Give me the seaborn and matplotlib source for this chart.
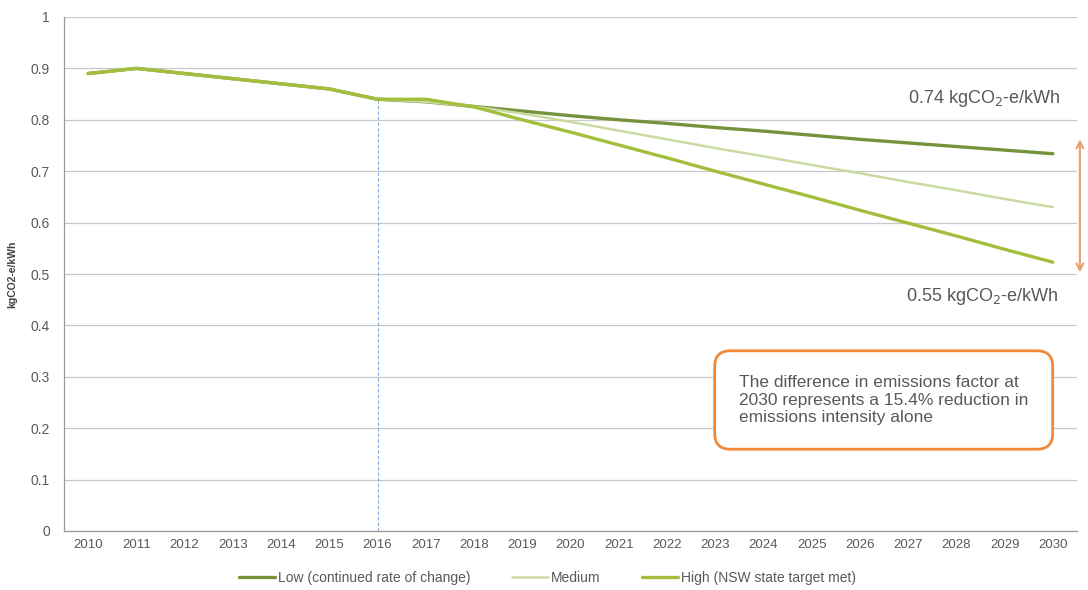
import matplotlib
matplotlib.use("Agg")
import matplotlib.pyplot as plt
import seaborn as sns
import pandas as pd

# ── data ─────────────────────────────────────────────────────────────
years = list(range(2010, 2031))
low = [0.89, 0.90, 0.89, 0.88, 0.87, 0.86, 0.84,
       0.835, 0.826, 0.817, 0.808, 0.800, 0.793, 0.785,
       0.778, 0.770, 0.762, 0.755, 0.748, 0.741, 0.734]
medium = [0.89, 0.90, 0.89, 0.88, 0.87, 0.86, 0.84,
          0.835, 0.826, 0.812, 0.796, 0.779, 0.762, 0.745,
          0.729, 0.712, 0.696, 0.679, 0.663, 0.646, 0.630]
high = [0.89, 0.90, 0.89, 0.88, 0.87, 0.86, 0.84,
        0.840, 0.825, 0.800, 0.776, 0.751, 0.726, 0.700,
        0.675, 0.650, 0.624, 0.599, 0.574, 0.548, 0.523]
series_names = ["Low (continued rate of change)", "Medium", "High (NSW state target met)"]
y_ticks = [0, 0.1, 0.2, 0.3, 0.4, 0.5, 0.6, 0.7, 0.8, 0.9, 1]
y_tick_labels = ["0", "0.1", "0.2", "0.3", "0.4", "0.5", "0.6", "0.7", "0.8", "0.9", "1"]
split_year = 2016
label_top = "0.74 kgCO$_2$-e/kWh"
label_bottom = "0.55 kgCO$_2$-e/kWh"
note = ("The difference in emissions factor at\n"
        "2030 represents a 15.4% reduction in\n"
        "emissions intensity alone")

PALETTE = {series_names[0]: "#76923C",
           series_names[1]: "#C9DBA3",
           series_names[2]: "#A2BE3C"}
WIDTHS = {series_names[0]: 2.4, series_names[1]: 1.8, series_names[2]: 2.4}
TEXT = "#595959"
GRID = "#C8C8C8"

df = pd.DataFrame({
    "year": years * 3,
    "value": low + medium + high,
    "scenario": [series_names[0]] * len(years)
                + [series_names[1]] * len(years)
                + [series_names[2]] * len(years),
})

sns.set_theme(style="white")
plt.rcParams["font.family"] = ["Liberation Sans", "DejaVu Sans"]

fig = plt.figure(figsize=(10.88, 5.90), dpi=100)
ax = fig.add_axes([64 / 1088, 1 - 531 / 590, (1077 - 64) / 1088, (531 - 17) / 590])

for name in series_names:
    sns.lineplot(data=df[df["scenario"] == name], x="year", y="value",
                 color=PALETTE[name], linewidth=WIDTHS[name], ax=ax,
                 label=name, legend=False)

# dashed marker at the split year
split_val = low[years.index(split_year)]
ax.vlines(split_year, 0, split_val, colors="#7FAEDB", linestyles=(0, (3, 2)),
          linewidth=0.8, zorder=1)

ax.set_xlim(years[0] - 0.5, years[-1] + 0.5)
ax.set_ylim(0, 1)
ax.set_xticks(years)
ax.set_xticklabels([str(y) for y in years])
ax.set_xticks([y + 0.5 for y in [years[0] - 1] + years], minor=True)
ax.set_yticks(y_ticks)
ax.set_yticklabels(y_tick_labels)
ax.tick_params(axis="x", which="major", length=0, labelsize=9.5, colors=TEXT, pad=6)
ax.tick_params(axis="x", which="minor", length=4, color="#999999", direction="out")
ax.tick_params(axis="y", length=4, color="#999999", labelsize=10, labelcolor=TEXT, pad=6)
ax.yaxis.grid(True, color=GRID, linewidth=0.9)
ax.set_axisbelow(True)
ax.set_xlabel("")
ax.set_ylabel("kgCO2-e/kWh", fontsize=7.5, fontweight="bold", color="#404040", labelpad=10)
for side in ["top", "right"]:
    ax.spines[side].set_visible(False)
for side in ["left", "bottom"]:
    ax.spines[side].set_color("#999999")
    ax.spines[side].set_linewidth(0.9)

# annotations
ax.text(years[-1] + 0.17, 0.842, label_top, ha="right", va="center",
        fontsize=13, color=TEXT)
ax.text(years[-1] + 0.12, 0.457, label_bottom, ha="right", va="center",
        fontsize=13, color=TEXT)
ax.annotate("", xy=(years[-1] + 0.56, 0.503), xytext=(years[-1] + 0.56, 0.762),
            arrowprops=dict(arrowstyle="<->", color="#E8A06E", lw=1.5,
                            shrinkA=0, shrinkB=0, mutation_scale=12),
            annotation_clip=False)
fig.text(739 / 1088, 1 - 400 / 590, note, ha="left", va="center",
         fontsize=12.5, color=TEXT, linespacing=1.2,
         bbox=dict(boxstyle="round,pad=1.4,rounding_size=0.9", facecolor="white",
                   edgecolor="#F08A3A", linewidth=2.0))

handles, labels = ax.get_legend_handles_labels()
fig.legend(handles, labels, loc="center", bbox_to_anchor=(0.503, 1 - 578 / 590),
           ncol=3, frameon=False, fontsize=10, handlelength=2.6,
           columnspacing=3.0, labelcolor=TEXT, handletextpad=0.2)

fig.savefig("out.png", dpi=100, facecolor="white")
